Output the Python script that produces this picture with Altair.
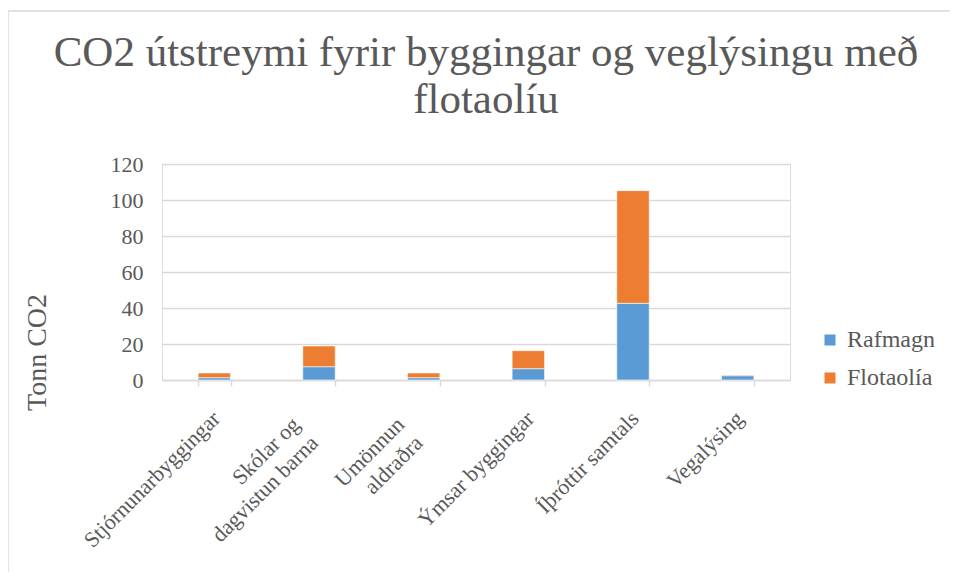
import altair as alt
import pandas as pd

categories = ["Stjórnunarbyggingar", "Skólar og|dagvistun barna", "Umönnun|aldraðra",
              "Ýmsar byggingar", "Íþróttir samtals", "Vegalýsing"]
rafmagn = [1.3, 7.4, 1.3, 6.3, 42.6, 2.4]
flotaolia = [2.6, 11.5, 2.6, 10.0, 62.6, 0.4]
series = ["Rafmagn", "Flotaolía"]
colors = ["#5B9BD5", "#ED7D31"]
y_ticks = [0, 20, 40, 60, 80, 100, 120]
title_lines = ["CO2 útstreymi fyrir byggingar og veglýsingu með", "flotaolíu"]

rows = []
for i, c in enumerate(categories):
    rows.append({"cat": c, "series": series[0], "value": rafmagn[i], "idx": 0})
    rows.append({"cat": c, "series": series[1], "value": flotaolia[i], "idx": 1})
df = pd.DataFrame(rows)

FONT = "Liberation Serif"
GRAY = "#595959"
MULTI = "indexof(datum.cat, '|') >= 0"

xscale = alt.Scale(paddingInner=0.69, paddingOuter=0.345)

bars = alt.Chart(df).mark_bar(stroke="white", strokeWidth=0.6).encode(
    x=alt.X("cat:N", sort=categories, title=None, scale=xscale,
            axis=alt.Axis(labels=False,
                          tickBand="extent", ticks=True, tickSize=6, tickColor="#d9d9d9",
                          tickWidth=1.5, domainColor="#d9d9d9", domainWidth=1.5, grid=False)),
    y=alt.Y("value:Q", stack="zero", title="Tonn CO2",
            scale=alt.Scale(domain=[0, 120], nice=False),
            axis=alt.Axis(values=y_ticks, labelFont=FONT, labelFontSize=22, labelColor=GRAY,
                          labelPadding=19, ticks=False, domain=False,
                          gridColor="#d9d9d9", gridWidth=1.5,
                          titleFont=FONT, titleFontSize=28, titleColor=GRAY,
                          titleFontWeight="normal", titleAngle=270,
                          titleX=-125, titleY=188, titleAlign="center", titleBaseline="middle")),
    color=alt.Color("series:N", scale=alt.Scale(domain=series, range=colors),
                    legend=alt.Legend(title=None, orient="none", legendX=656, legendY=164,
                                      symbolType="square", symbolSize=121, symbolStrokeWidth=0,
                                      labelFont=FONT, labelFontSize=24, labelColor=GRAY,
                                      rowPadding=14, labelOffset=5)),
    order=alt.Order("idx:Q"),
)

xlabels = alt.Chart(pd.DataFrame({"cat": categories})).mark_text(
    angle=315, align="right", baseline="top", lineBreak="|", lineHeight=26,
    font=FONT, fontSize=22, color=GRAY, clip=False,
    dx=alt.expr(MULTI + " ? -25.5 : -3.5"),
    dy=alt.expr(MULTI + " ? -17 : -3.5"),
).encode(
    x=alt.X("cat:N", sort=categories, scale=xscale),
    y=alt.value(244),
    text="cat:N",
)

base = alt.Chart(pd.DataFrame({"a": [0]}))
frame_top = base.mark_rule(color="#d9d9d9", strokeWidth=1.5, clip=False).encode(
    x=alt.value(-154), x2=alt.value(900), y=alt.value(-153))
frame_left = base.mark_rule(color="#d9d9d9", strokeWidth=1.5, clip=False).encode(
    x=alt.value(-154), y=alt.value(-153), y2=alt.value(500))

title = alt.Chart(pd.DataFrame({"b": [0]})).mark_text(
    font=FONT, fontSize=43, color=GRAY, align="center", baseline="alphabetic",
    lineHeight=47, clip=False
).encode(x=alt.value(324), y=alt.value(-98), text=alt.value(title_lines))

chart = alt.layer(frame_top, frame_left, title, bars, xlabels).properties(
    width=628, height=216,
    autosize=alt.AutoSizeParams(type="none"),
    padding={"left": 154, "top": 156, "right": 160, "bottom": 192},
).configure_view(stroke=None).configure(background="white", font=FONT)

chart.save("out.html", embed_options={"renderer": "svg", "actions": False})
